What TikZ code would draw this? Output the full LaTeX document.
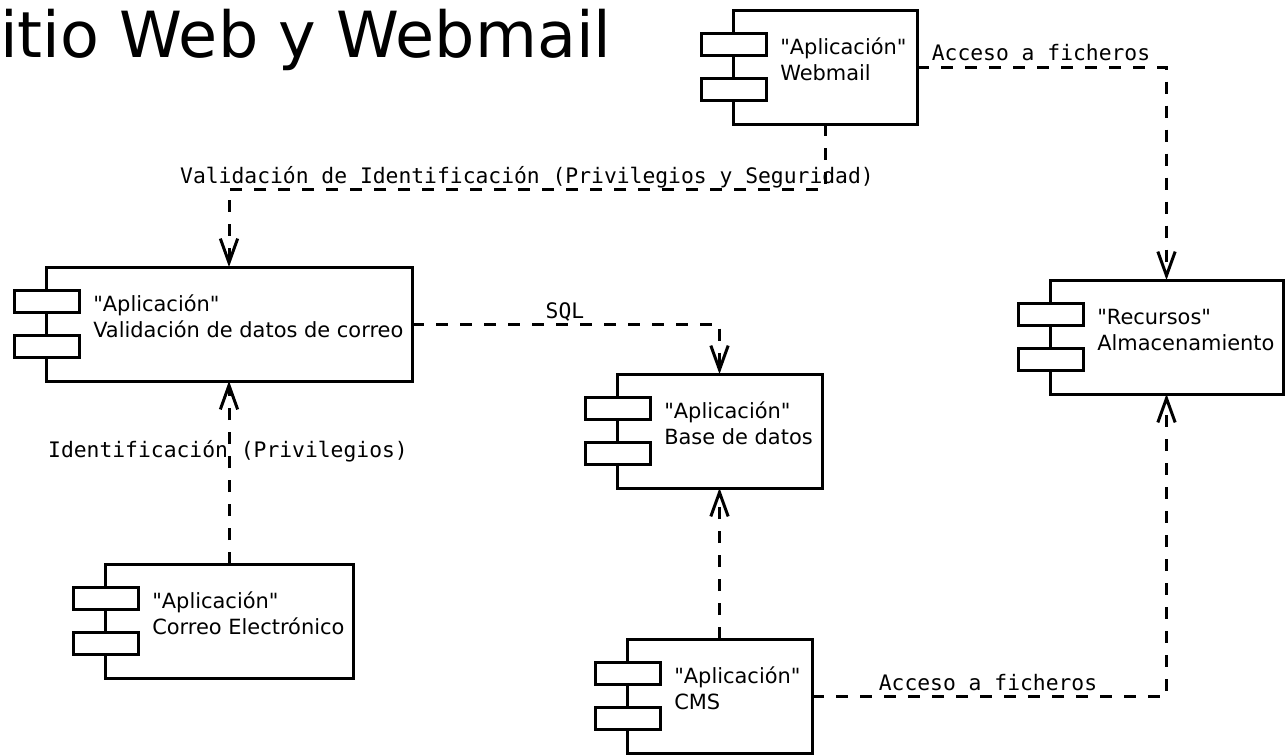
\documentclass[tikz,border=0pt]{standalone}
\usepackage{fontspec}
\setmainfont{DejaVu Sans}[Ligatures=TeXOff]
\setmonofont{DejaVu Sans Mono}[Ligatures=TeXOff]
\usetikzlibrary{arrows.meta,calc}

\tikzset{
  compbox/.style={draw, line width=2.25pt, minimum height=114*0.75pt, inner sep=0pt, outer sep=0pt},
  tabbox/.style={draw, fill=white, line width=2.25pt, minimum width=65*0.75pt, minimum height=22*0.75pt, inner sep=0pt, outer sep=0pt},
  comptext/.style={inner sep=0pt, anchor=base west, font=\fontsize{15.7pt}{19pt}\selectfont},
  dep/.style={draw, line width=2.25pt, dash pattern=on 9pt off 9pt, -{Straight Barb[length=18pt,width=13pt]}},
  deplabel/.style={inner sep=0pt, anchor=base, font=\ttfamily\fontsize{16pt}{19pt}\selectfont},
}

% UML component: #1 name, #2 left, #3 top, #4 width, #5 first line, #6 second line
\newcommand{\umlcomp}[6]{%
  \node[compbox, minimum width=#4*0.75pt, anchor=north west] (#1) at (#2,#3) {};
  \node[tabbox, anchor=north west] (#1-t1) at ($(#1.north west)+(-32,23)$) {};
  \node[tabbox, anchor=north west] (#1-t2) at ($(#1.north west)+(-32,68)$) {};
  \node[comptext] (#1-a) at ($(#1.north west)+(47,44)$) {#5};
  \node[comptext] (#1-b) at ($(#1.north west)+(47,70)$) {#6};
}

\begin{document}
\begin{tikzpicture}[x=0.75pt,y=-0.75pt]
  \useasboundingbox (0,0) rectangle (1286,754);

  % title
  \node[anchor=base west, inner sep=0pt, font=\fontsize{47.7pt}{50pt}\selectfont] (title) at (0,57) {itio Web y Webmail};

  % components
  \umlcomp{wm}{733}{10}{184}{"Aplicación"}{Webmail}
  \umlcomp{val}{46}{267}{366}{"Aplicación"}{Validación de datos de correo}
  \umlcomp{bd}{617}{374}{205}{"Aplicación"}{Base de datos}
  \umlcomp{rec}{1050}{280}{233}{"Recursos"}{Almacenamiento}
  \umlcomp{corr}{105}{564}{248}{"Aplicación"}{Correo Electrónico}
  \umlcomp{cms}{627}{639}{185}{"Aplicación"}{CMS}

  % dependencies
  \coordinate (k1) at ($(wm.south)+(0,65)$);
  \draw[dep] (wm.south) -- (k1) -| (val.north);
  \draw[dep] (wm.east) -| (rec.north);
  \draw[dep] (val.east) -| (bd.north);
  \draw[dep] (corr.north) -- (val.south);
  \draw[dep] (cms.north) -- (bd.south);
  \draw[dep] (cms.east) -| (rec.south);

  % dependency labels
  \node[deplabel] (l1) at (527,183) {Validación de Identificación (Privilegios y Seguridad)};
  \node[deplabel] (l2) at (1041,60) {Acceso a ficheros};
  \node[deplabel] (l3) at (565,318) {SQL};
  \node[deplabel] (l4) at (228,457) {Identificación (Privilegios)};
  \node[deplabel] (l5) at (988,690) {Acceso a ficheros};
\end{tikzpicture}
\end{document}
